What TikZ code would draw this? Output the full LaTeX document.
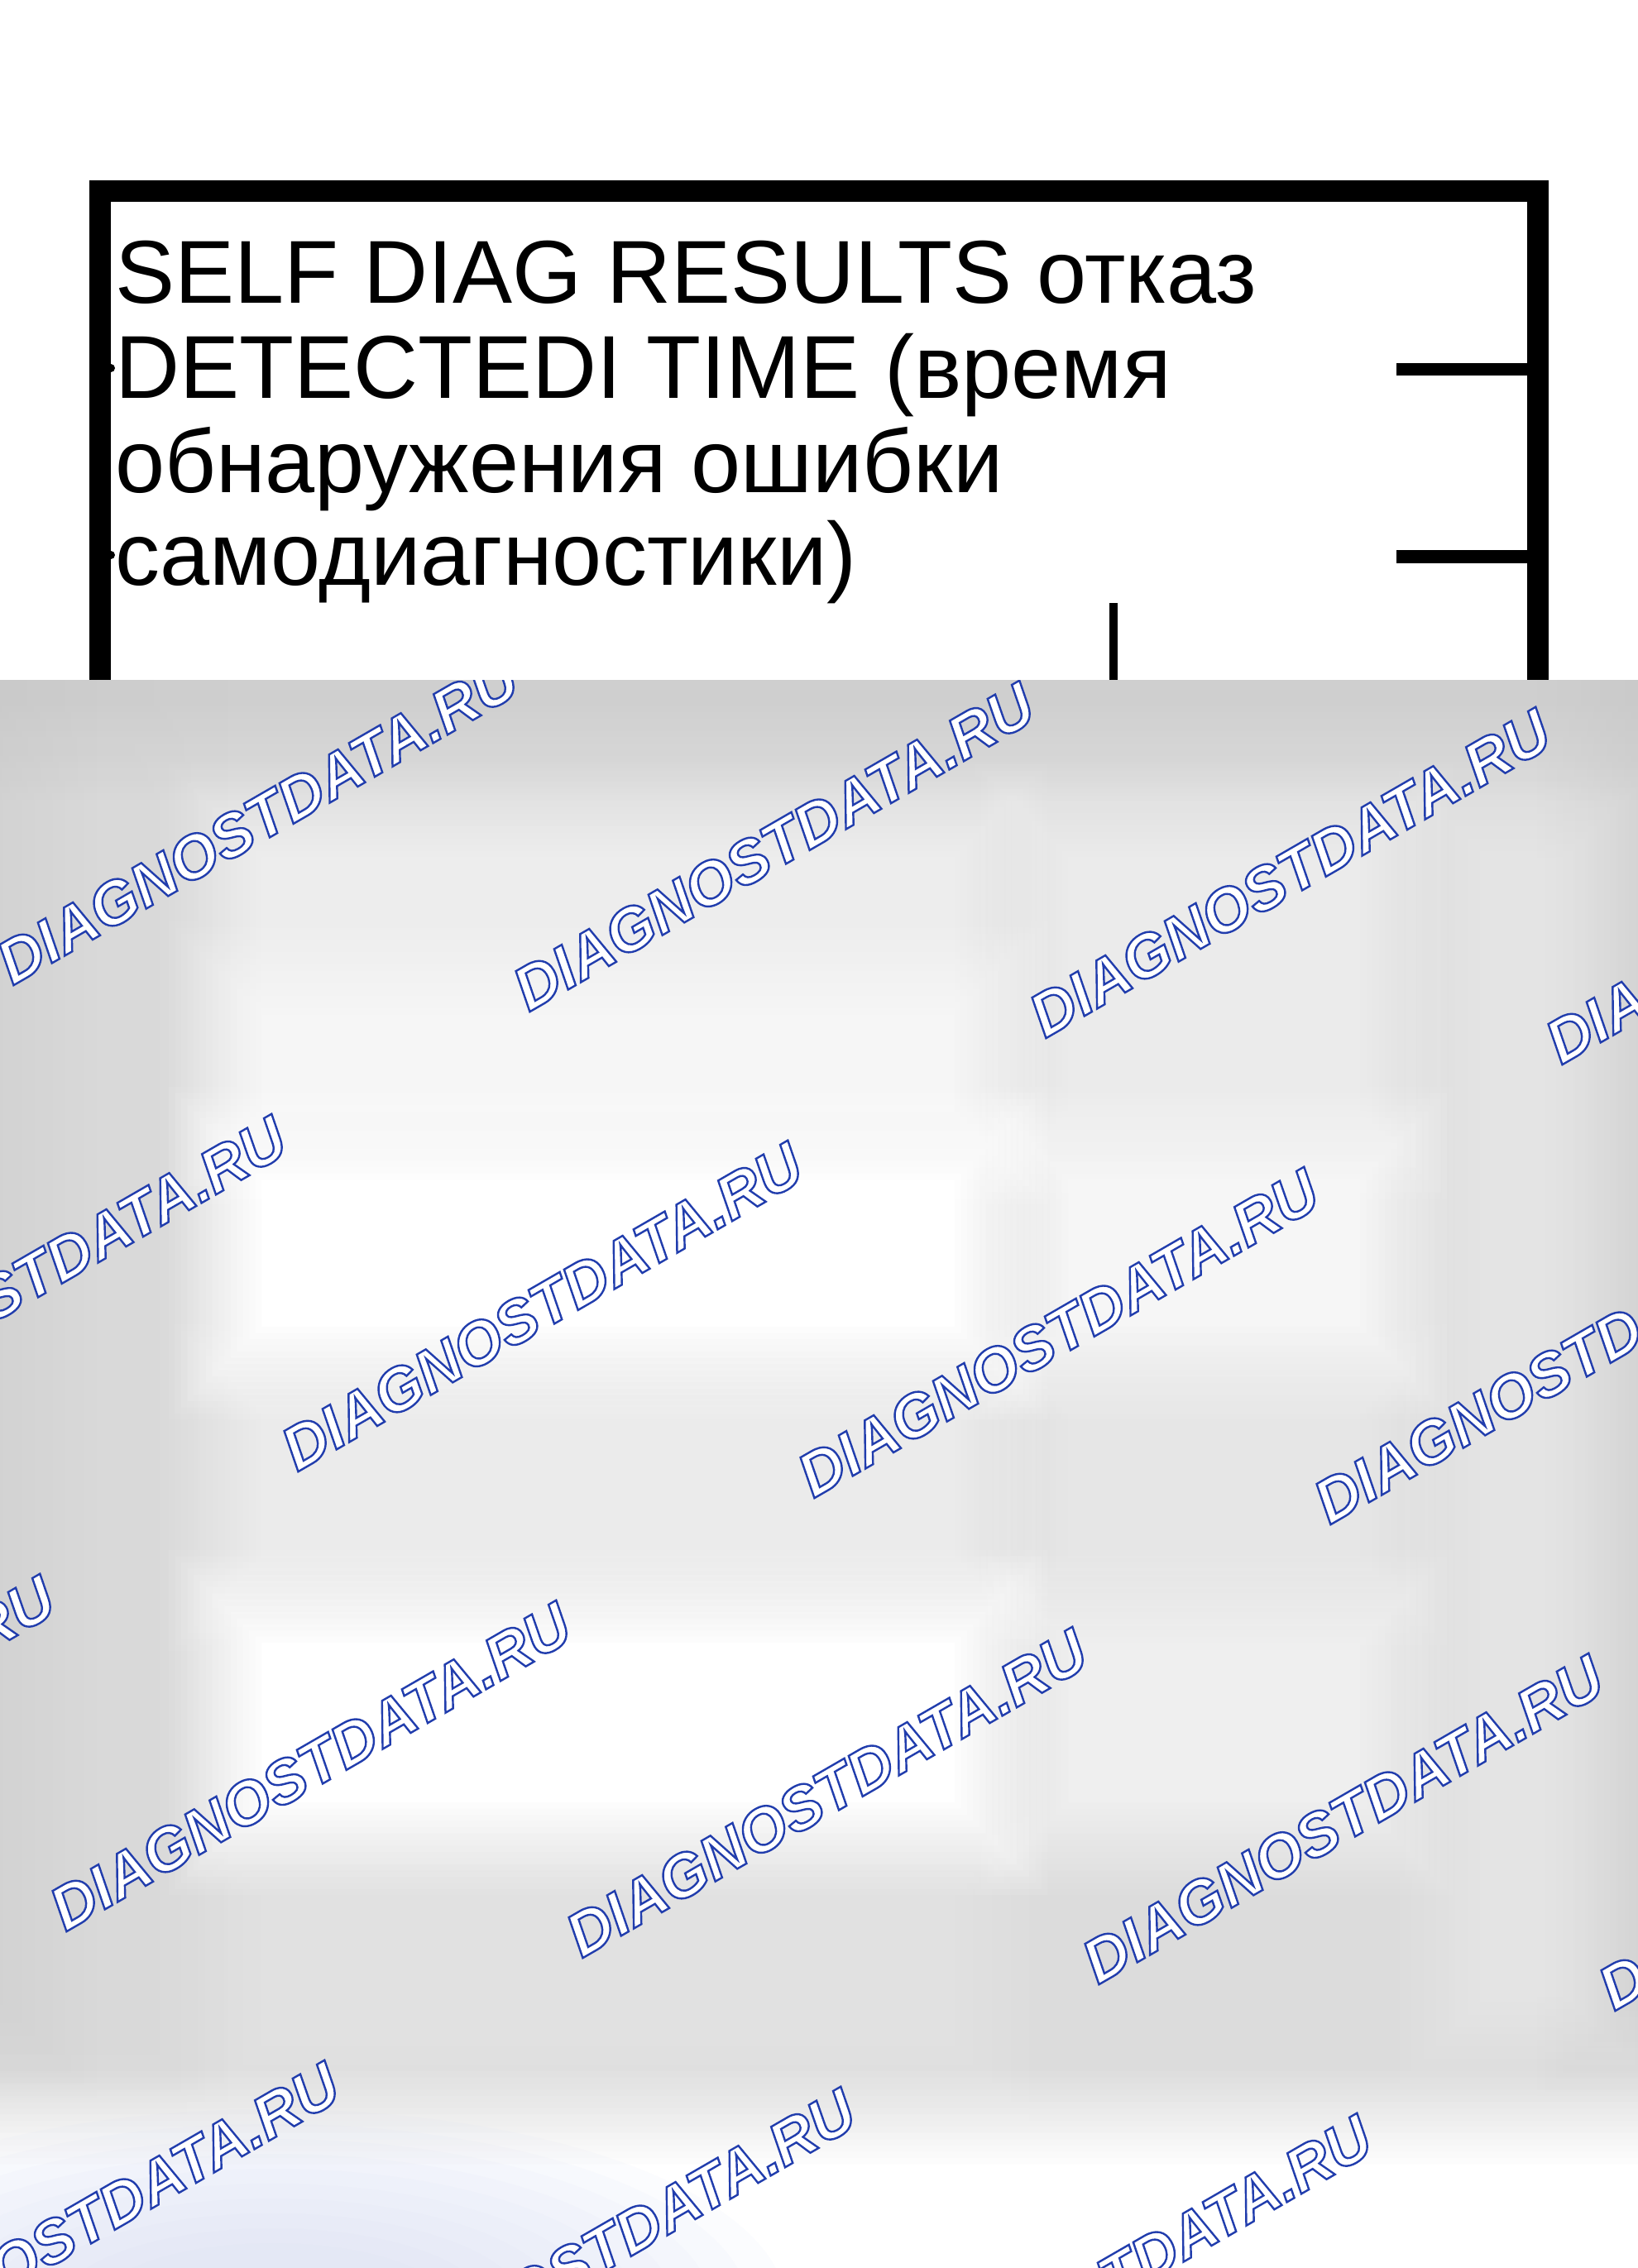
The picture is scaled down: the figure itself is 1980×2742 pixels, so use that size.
\documentclass[tikz,border=0pt]{standalone}
\usepackage{fontspec}
\setmainfont{Liberation Sans}
\usetikzlibrary{fadings}
\definecolor{basegray}{HTML}{DCDCDC}
\definecolor{topgray}{HTML}{C4C4C4}
\definecolor{edgegray}{HTML}{C4C4C4}
\definecolor{lav}{HTML}{D8DEF4}
\newcommand\mkfade[5]{%
\begin{tikzfadingfrompicture}[name=#1,x=0.5pt,y=-0.5pt]
\fill[black] ({#2-90},{#3-90}) rectangle ({#4+90},{#5+90});
\foreach \ii in {1,...,16}{%
  \pgfmathsetmacro\dd{-90+(\ii-0.5)*7.5}%
  \pgfmathsetmacro\pp{\ii*100/16}%
  \fill[white!\pp!black] ({#2+\dd},{#3+\dd}) rectangle ({#4-\dd},{#5-\dd});
}
\end{tikzfadingfrompicture}}
\newcommand\softbox[7]{%
  \fill[#6,opacity=#7,path fading=#1,fit fading=false,
    fading transform={shift={({(#2+#4)/2},{(#3+#5)/2})}}]
    ({#2-90},{#3-90}) rectangle ({#4+90},{#5+90});}
% fadings (name, x1, y1, x2, y2)
\mkfade{ftop}{-200}{600}{2200}{880}
\mkfade{fleft}{-300}{700}{190}{2480}
\mkfade{fledge}{-300}{700}{30}{2450}
\mkfade{fredge}{1945}{700}{2300}{2450}
\mkfade{fbA}{290}{1010}{1180}{1370}
\mkfade{fbB}{290}{1200}{1180}{1370}
\mkfade{fbC}{290}{1400}{1180}{1630}
\mkfade{fbD}{290}{1680}{1180}{1910}
\mkfade{fbE}{290}{1960}{1180}{2205}
\mkfade{fbF}{290}{2260}{1180}{2500}
\mkfade{fcA}{1265}{1010}{1670}{1370}
\mkfade{fcC}{1265}{1400}{1670}{1630}
\mkfade{fcD}{1265}{1680}{1670}{1910}
\mkfade{fcE}{1265}{1960}{1670}{2205}
\mkfade{fdA}{1770}{1010}{1920}{2440}
\mkfade{fbot}{-200}{2590}{2200}{3000}
\newcommand\wmtext[1]{\special{pdf:literal direct 2 Tr 1.2 w 0.130 0.240 0.680 RG}#1\special{pdf:literal direct 0 Tr}}
\begin{document}
\begin{tikzpicture}[x=0.5pt,y=-0.5pt,
  maintext/.style={anchor=base west, inner sep=0pt, font=\fontsize{54}{56}\selectfont},
  wm/.style={anchor=base west, inner sep=0pt, rotate=30, text=white,
    font=\fontsize{37}{40}\selectfont\bfseries\itshape}]
\useasboundingbox (0,0) rectangle (1980,2742);
\fill[white] (0,0) rectangle (1980,2742);
% frame
\fill[black] (108,218) rectangle (1872,244);
\fill[black] (108,218) rectangle (134,822);
\fill[black] (1846,218) rectangle (1872,822);
% right ticks and inner marks
\fill[black] (1688,439) rectangle (1846,454);
\fill[black] (1688,665) rectangle (1846,681);
\fill[black] (1341,729) rectangle (1351,822);
\fill[black] (134,445) circle (5);
\fill[black] (134,671) circle (5);
% text
\node[maintext] (l1) at (139,366) {SELF DIAG RESULTS отказ};
\node[maintext] (l2) at (139,481) {DETECTEDI TIME (время};
\node[maintext] (l3) at (139,595) {обнаружения ошибки};
\node[maintext] (l4) at (139,707) {самодиагностики)};
% blurred lower region
\begin{scope}
\clip (0,822) rectangle (1980,2742);
\fill[basegray] (0,822) rectangle (1980,2742);
\softbox{ftop}{-200}{600}{2200}{880}{topgray}{0.5}
\softbox{fleft}{-300}{700}{190}{2480}{edgegray}{0.12}
\softbox{fledge}{-300}{700}{30}{2450}{edgegray}{0.3}
\softbox{fredge}{1945}{700}{2300}{2450}{edgegray}{0.4}
% column B
\softbox{fbA}{290}{1010}{1180}{1370}{white}{0.5}
\softbox{fbB}{290}{1200}{1180}{1370}{white}{0.5}
\softbox{fbC}{290}{1400}{1180}{1630}{white}{1}
\softbox{fbD}{290}{1680}{1180}{1910}{white}{0.45}
\softbox{fbE}{290}{1960}{1180}{2205}{white}{1}
\softbox{fbF}{290}{2260}{1180}{2500}{white}{0.15}
% column C
\softbox{fcA}{1265}{1010}{1670}{1370}{white}{0.45}
\softbox{fcC}{1265}{1400}{1670}{1630}{white}{0.75}
\softbox{fcD}{1265}{1680}{1670}{1910}{white}{0.3}
\softbox{fcE}{1265}{1960}{1670}{2205}{white}{0.55}
% column D
\softbox{fdA}{1770}{1010}{1920}{2440}{white}{0.25}
% bottom
\softbox{fbot}{-200}{2590}{2200}{3000}{white}{1}
\foreach \ii in {0,...,9}{%
  \fill[lav,opacity=0.09] (330,2790) ellipse ({620-\ii*45} and {240-\ii*18});
}
% watermarks
\foreach \r in {0,...,3}{%
  \foreach \k in {-1,...,4}{%
    \pgfmathsetmacro\wx{15+624*\k-280*\r}%
    \pgfmathsetmacro\wy{1192+32*\k+556*\r}%
    \node[wm] (wm\r\k) at (\wx,\wy) {\wmtext{DIAGNOSTDATA.RU}};
  }
}
\end{scope}
\end{tikzpicture}
\end{document}
